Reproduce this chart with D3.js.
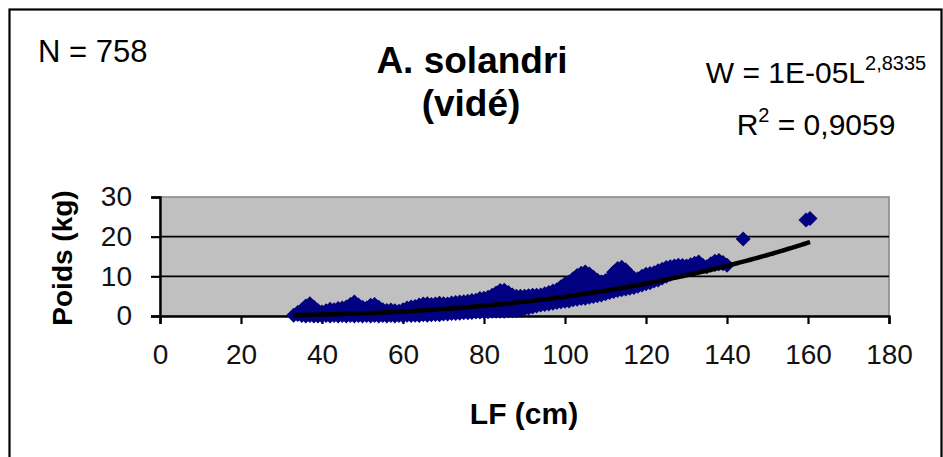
<!DOCTYPE html>
<html>
<head>
<meta charset="utf-8">
<script src="https://cdn.jsdelivr.net/npm/d3@7"></script>
<style>
  html, body { margin: 0; padding: 0; background: #fff; }
  svg { display: block; }
  text { font-family: Arial, "Liberation Sans", sans-serif; }
</style>
</head>
<body>
<svg id="chart" width="943" height="457"></svg>
<script>
// ---- Data ----
const xTicks = [0, 20, 40, 60, 80, 100, 120, 140, 160, 180];
const yTicks = [0, 10, 20, 30];
const gridValues = [10, 20];

// fork length (cm) and the weights (kg) observed at that length
const lfCm = [33,34,35,36,37,38,39,40,41,42,43,44,45,46,47,48,49,50,51,52,53,54,55,56,57,58,59,60,
  61,62,63,64,65,66,67,68,69,70,71,72,73,74,75,76,77,78,79,80,81,82,83,84,85,86,87,88,89,90,
  91,92,93,94,95,96,97,98,99,100,101,102,103,104,105,106,107,108,109,110,111,112,113,114,115,116,117,118,119,120,
  121,122,123,124,125,126,127,128,129,130,131,132,133,134,135,136,137,138,139,140,144,159.5,160.5];
const poidsKg = [
  [0.2],[0.4,0.9],[0.1,1.5],[0.0,1.2,2.5],[0.1,1.5,3.1],[0.0,1.0,2.2],[0.0,1.4],[0.0,1.0],[0.1,1.3],[0.0,1.7],
  [0.1,1.6],[0.0,1.9],[0.1,2.0],[0.0,2.3],[0.1,1.4,2.9],[0.0,1.7,3.5],[0.1,1.3,2.8],[0.0,2.2],[0.1,2.0],[0.0,1.3,2.7],
  [0.1,1.4,2.9],[0.0,2.2],[0.1,1.6],[0.0,1.4],[0.1,1.5],[0.0,1.3],[0.1,1.2],[0.0,1.6],[0.2,2.0],[0.1,2.3],
  [0.2,2.4],[0.1,1.4,2.8],[0.3,1.5,3.0],[0.2,1.6,3.1],[0.3,1.6,2.9],[0.4,1.7,3.0],[0.3,1.8,3.2],[0.5,1.8,3.1],[0.5,1.8,3.0],[0.6,1.9,3.3],
  [0.6,2.0,3.4],[0.7,2.1,3.5],[0.8,2.2,3.6],[0.8,2.3,3.7],[0.9,2.4,3.9],[1.0,2.5,4.0],[1.0,2.7,4.4],[1.1,2.8,4.5],[1.1,2.9,4.7],[1.2,2.6,3.9,5.2],
  [1.2,2.8,4.3,5.8],[1.2,3.0,4.7,6.4],[1.2,3.0,4.8,6.5],[1.3,2.9,4.4,5.9],[1.3,2.7,4.0,5.3],[1.3,3.1,5.0],[1.5,3.2,5.0],[1.8,3.4,5.0],[2.0,3.5,5.1],[2.3,3.7,5.2],
  [2.5,3.8,5.2],[2.8,4.0,5.3],[2.9,4.2,5.6],[3.0,4.4,5.9],[3.2,4.7,6.3],[3.4,5.0,6.6],[3.6,5.5,7.4],[3.7,5.2,6.6,8.1],[3.8,5.4,7.0,8.6],[4.1,5.8,7.6,9.4],
  [4.2,6.0,8.1,10.2],[4.4,6.3,8.6,10.8],[4.5,6.5,8.8,11.1],[4.7,6.5,8.6,10.6],[4.9,6.5,8.2,9.8],[5.1,7.0,9.0],[5.3,7.0,8.6],[5.6,7.2,8.9],[5.9,7.7,9.5],[6.2,7.8,9.4,11.0],
  [6.4,8.2,10.1,12.0],[6.6,8.5,10.4,12.3],[6.8,8.4,10.0,11.6],[7.0,8.7,10.4],[7.2,8.4,9.6],[7.5,8.5,9.4],[7.8,8.9,10.0],[8.1,9.3,10.5],[8.4,9.5,10.7],[8.8,10.9],
  [9.1,11.4],[9.6,11.8],[10.0,12.2],[10.5,12.4],[11.0,12.6],[11.5,12.8],[11.7,12.7],[11.8,12.6],[12.0,12.9],[12.2,13.3],
  [12.4,13.6],[12.5,12.8],[12.4],[12.8,13.2],[13.0,13.8],[13.2,14.0],[13.2,13.5],[12.8],[19.4],[24.2],[24.6]
];

// power trendline shown in the chart (W = a * L^b)
const trendCoef = 1.05e-5;
const trendExp = 2.8335;

const labels = {
  n: "N = 758",
  title1: "A. solandri",
  title2: "(vidé)",
  eqMain: "W = 1E-05L",
  eqExp: "2,8335",
  r2Pre: "R",
  r2Sup: "2",
  r2Post: " = 0,9059",
  xTitle: "LF (cm)",
  yTitle: "Poids (kg)"
};

// ---- Build ----
const points = [];
lfCm.forEach((l, i) => poidsKg[i].forEach(w => points.push({ l, w })));

const svg = d3.select("#chart");
const x = d3.scaleLinear().domain([0, 180]).range([160, 889]);
const y = d3.scaleLinear().domain([0, 30]).range([316, 197]);

// outer frame
svg.append("rect")
  .attr("x", 9.5).attr("y", 9.5).attr("width", 932).attr("height", 470)
  .attr("fill", "#fff").attr("stroke", "#000").attr("stroke-width", 2.2);

// plot area
svg.append("rect")
  .attr("x", x(0)).attr("y", y(30))
  .attr("width", x(180) - x(0)).attr("height", y(0) - y(30))
  .attr("fill", "#c0c0c0").attr("stroke", "#8a8a8a").attr("stroke-width", 1.6);

// gridlines
svg.append("g").selectAll("line").data(gridValues).join("line")
  .attr("x1", x(0)).attr("x2", x(180))
  .attr("y1", d => y(d)).attr("y2", d => y(d))
  .attr("stroke", "#000").attr("stroke-width", 1.8);

// axes
const xAxis = svg.append("g").attr("transform", `translate(0,${y(0)})`)
  .call(d3.axisBottom(x).tickValues(xTicks).tickSize(8).tickPadding(20).tickFormat(d3.format("d")));
const yAxis = svg.append("g").attr("transform", `translate(${x(0)},0)`)
  .call(d3.axisLeft(y).tickValues(yTicks).tickSize(9).tickPadding(19).tickFormat(d3.format("d")));
[xAxis, yAxis].forEach(a => {
  a.select(".domain").attr("stroke", "#000").attr("stroke-width", 2.4);
  a.selectAll(".tick line").attr("stroke", "#000").attr("stroke-width", 2.2);
  a.selectAll(".tick text").attr("font-size", 28).attr("fill", "#111")
    .attr("font-family", "Arial, 'Liberation Sans', sans-serif");
});

// scatter points (diamonds)
const r = 7.5;
svg.append("g").selectAll("path").data(points).join("path")
  .attr("transform", d => `translate(${x(d.l)},${y(d.w)})`)
  .attr("d", `M0,${-r}L${r},0L0,${r}L${-r},0Z`)
  .attr("fill", "#000080");

// trendline
const lMin = d3.min(lfCm), lMax = d3.max(lfCm);
const trendPts = d3.range(lMin, lMax + 0.001, 0.5).map(l => ({ l, w: trendCoef * Math.pow(l, trendExp) }));
svg.append("path").datum(trendPts)
  .attr("d", d3.line().x(d => x(d.l)).y(d => y(d.w)))
  .attr("fill", "none").attr("stroke", "#000").attr("stroke-width", 4.5);

// texts
svg.append("text").attr("x", 38).attr("y", 62).attr("font-size", 31).text(labels.n);
svg.append("text").attr("x", 472).attr("y", 73).attr("text-anchor", "middle")
  .attr("font-size", 37).attr("font-weight", "bold").text(labels.title1);
svg.append("text").attr("x", 471).attr("y", 116).attr("text-anchor", "middle")
  .attr("font-size", 37).attr("font-weight", "bold").text(labels.title2);

const eq = svg.append("text").attr("x", 816).attr("y", 83).attr("text-anchor", "middle").attr("font-size", 30);
eq.append("tspan").text(labels.eqMain);
eq.append("tspan").attr("font-size", 20).attr("dy", -13).text(labels.eqExp);

const r2 = svg.append("text").attr("x", 816).attr("y", 135).attr("text-anchor", "middle").attr("font-size", 30);
r2.append("tspan").text(labels.r2Pre);
r2.append("tspan").attr("font-size", 20).attr("dy", -13).text(labels.r2Sup);
r2.append("tspan").attr("dy", 13).text(labels.r2Post);

svg.append("text").attr("x", 524).attr("y", 424).attr("text-anchor", "middle")
  .attr("font-size", 30).attr("font-weight", "bold").text(labels.xTitle);
svg.append("text").attr("transform", "translate(72,258) rotate(-90)").attr("text-anchor", "middle")
  .attr("font-size", 28).attr("font-weight", "bold").text(labels.yTitle);
</script>
</body>
</html>
